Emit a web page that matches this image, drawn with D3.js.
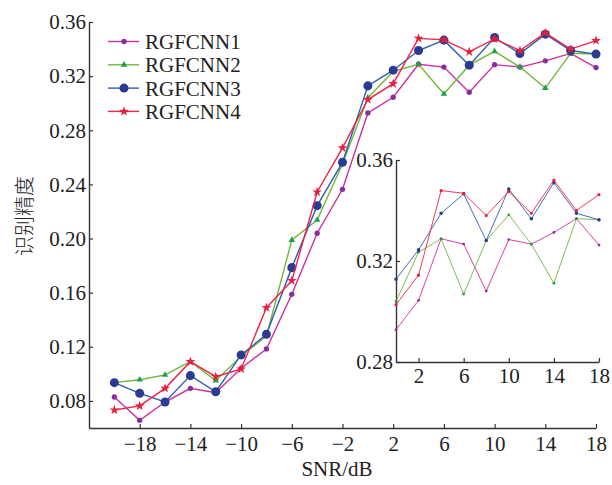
<!DOCTYPE html>
<html>
<head>
<meta charset="utf-8">
<script src="https://cdn.jsdelivr.net/npm/d3@7"></script>
<style>
  html, body { margin: 0; padding: 0; background: #fff; }
  svg { display: block; }
  text { font-family: "Liberation Serif", "Times New Roman", serif; fill: #222; }
</style>
</head>
<body>
<svg id="chart" width="612" height="485"></svg>
<script>
// SNR points (dB) and recognition accuracy for each model
const snr = [-20, -18, -16, -14, -12, -10, -8, -6, -4, -2, 0, 2, 4, 6, 8, 10, 12, 14, 16, 18];
const rgfcnn1 = [0.0829, 0.0657, 0.0792, 0.0893, 0.0861, 0.1041, 0.1184, 0.1588, 0.2039, 0.2364,
                 0.2928, 0.3044, 0.3288, 0.3267, 0.3081, 0.3285, 0.3267, 0.3313, 0.3368, 0.3263];
const rgfcnn2 = [0.0935, 0.0957, 0.0992, 0.1090, 0.0950, 0.1130, 0.1280, 0.1989, 0.2137, 0.2550,
                 0.3040, 0.3235, 0.3288, 0.3069, 0.3281, 0.3383, 0.3267, 0.3112, 0.3368, 0.3363];
const rgfcnn3 = [0.0935, 0.0856, 0.0792, 0.0987, 0.0868, 0.1140, 0.1292, 0.1785, 0.2243, 0.2563,
                 0.3128, 0.3244, 0.3389, 0.3466, 0.3281, 0.3485, 0.3367, 0.3510, 0.3389, 0.3363];
const rgfcnn4 = [0.0733, 0.0763, 0.0893, 0.1090, 0.0979, 0.1036, 0.1489, 0.1689, 0.2344, 0.2670,
                 0.3027, 0.3144, 0.3479, 0.3468, 0.3380, 0.3475, 0.3389, 0.3520, 0.3400, 0.3463];

const seriesNames = ["RGFCNN1", "RGFCNN2", "RGFCNN3", "RGFCNN4"];
const xTicks = [-18, -14, -10, -6, -2, 2, 6, 10, 14, 18];
const yTicks = [0.08, 0.12, 0.16, 0.20, 0.24, 0.28, 0.32, 0.36];
const insetXTicks = [2, 6, 10, 14, 18];
const insetYTicks = [0.28, 0.32, 0.36];

const styles = [
  { line: "#d02e9e", mark: "#8a2c9c", shape: d3.symbolCircle,   size: 22, insetSize: 6 },
  { line: "#74b63a", mark: "#1f9f4a", shape: d3.symbolTriangle, size: 18, insetSize: 6 },
  { line: "#2d5fb0", mark: "#2b3a92", shape: d3.symbolCircle,   size: 64, insetSize: 10 },
  { line: "#ef2248", mark: "#e81e3c", shape: d3.symbolStar,     size: 30, insetSize: 8 }
];

const series = [rgfcnn1, rgfcnn2, rgfcnn3, rgfcnn4].map((vals, i) => ({
  name: seriesNames[i],
  style: styles[i],
  points: snr.map((s, j) => ({ x: s, y: vals[j] }))
}));

const svg = d3.select("#chart");
const axisColor = "#333";
const tickFont = 21;

function styleAxis(a) {
  a.select(".domain").attr("stroke", axisColor).attr("stroke-width", 1.4);
  a.selectAll(".tick line").attr("stroke", axisColor).attr("stroke-width", 1.2);
  a.selectAll(".tick text").attr("font-size", tickFont).attr("fill", "#222")
    .style("font-family", "'Liberation Serif', serif");
}

// ---------- main plot ----------
const x = d3.scaleLinear().domain([-22, 18]).range([89, 596]);
const y = d3.scaleLinear().domain([0.06, 0.36]).range([428, 22]);

const main = svg.append("g");

const xAxis = main.append("g")
  .attr("transform", `translate(0,${y(0.06)})`)
  .call(d3.axisBottom(x).tickValues(xTicks).tickSize(-4).tickSizeOuter(0)
    .tickFormat(d => d < 0 ? "\u2212" + Math.abs(d) : d));
const yAxis = main.append("g")
  .attr("transform", `translate(${x(-22)},0)`)
  .call(d3.axisLeft(y).tickValues(yTicks).tickSize(-4).tickSizeOuter(0)
    .tickFormat(d3.format(".2f")));
styleAxis(xAxis);
styleAxis(yAxis);
xAxis.selectAll(".tick text").attr("dy", null).attr("y", 23);
yAxis.selectAll(".tick text").attr("x", -3);

const line = d3.line().x(d => x(d.x)).y(d => y(d.y));

series.forEach(s => {
  const g = main.append("g");
  g.append("path").datum(s.points)
    .attr("fill", "none").attr("stroke", s.style.line).attr("stroke-width", 1.4)
    .attr("d", line);
  g.selectAll("path.m").data(s.points).join("path").attr("class", "m")
    .attr("transform", d => `translate(${x(d.x)},${y(d.y)})`)
    .attr("d", d3.symbol().type(s.style.shape).size(s.style.size))
    .attr("fill", s.style.mark);
});

// axis titles
svg.append("text")
  .attr("x", 337).attr("y", 476).attr("text-anchor", "middle")
  .attr("font-size", 21).text("SNR/dB");
svg.append("text")
  .attr("transform", "translate(32,216) rotate(-90)")
  .attr("text-anchor", "middle")
  .style("font-family", "'Noto Sans CJK SC', sans-serif")
  .attr("font-weight", 300)
  .attr("font-size", 20).attr("fill", "#333").text("识别精度");

// legend
const legend = svg.append("g");
series.forEach((s, i) => {
  const ly = 41.5 + i * 23.3;
  legend.append("line").attr("x1", 108).attr("x2", 139).attr("y1", ly).attr("y2", ly)
    .attr("stroke", s.style.line).attr("stroke-width", 1.4);
  legend.append("path")
    .attr("transform", `translate(124,${ly})`)
    .attr("d", d3.symbol().type(s.style.shape).size(s.style.size))
    .attr("fill", s.style.mark);
  legend.append("text").attr("x", 145).attr("y", ly + 7.5)
    .attr("font-size", 21).text(s.name);
});

// ---------- inset: SNR 0 to 18 dB ----------
const ix = d3.scaleLinear().domain([0, 18]).range([396, 599]);
const iy = d3.scaleLinear().domain([0.28, 0.36]).range([362, 160]);
const inset = svg.append("g");

const ixAxis = inset.append("g")
  .attr("transform", `translate(0,${iy(0.28)})`)
  .call(d3.axisBottom(ix).tickValues(insetXTicks).tickSize(-4).tickSizeOuter(0));
const iyAxis = inset.append("g")
  .attr("transform", `translate(${ix(0)},0)`)
  .call(d3.axisLeft(iy).tickValues(insetYTicks).tickSize(-4).tickSizeOuter(0)
    .tickFormat(d3.format(".2f")));
styleAxis(ixAxis);
styleAxis(iyAxis);
ixAxis.selectAll(".tick text").attr("dy", null).attr("y", 21);
iyAxis.selectAll(".tick text").attr("x", -3);

const iline = d3.line().x(d => ix(d.x)).y(d => iy(d.y));
series.forEach(s => {
  const pts = s.points.filter(p => p.x >= 0);
  const g = inset.append("g");
  g.append("path").datum(pts)
    .attr("fill", "none").attr("stroke", s.style.line).attr("stroke-width", 0.9)
    .attr("d", iline);
  g.selectAll("path.m").data(pts).join("path").attr("class", "m")
    .attr("transform", d => `translate(${ix(d.x)},${iy(d.y)})`)
    .attr("d", d3.symbol().type(d3.symbolCircle).size(s.style.insetSize))
    .attr("fill", s.style.mark);
});
</script>
</body>
</html>
